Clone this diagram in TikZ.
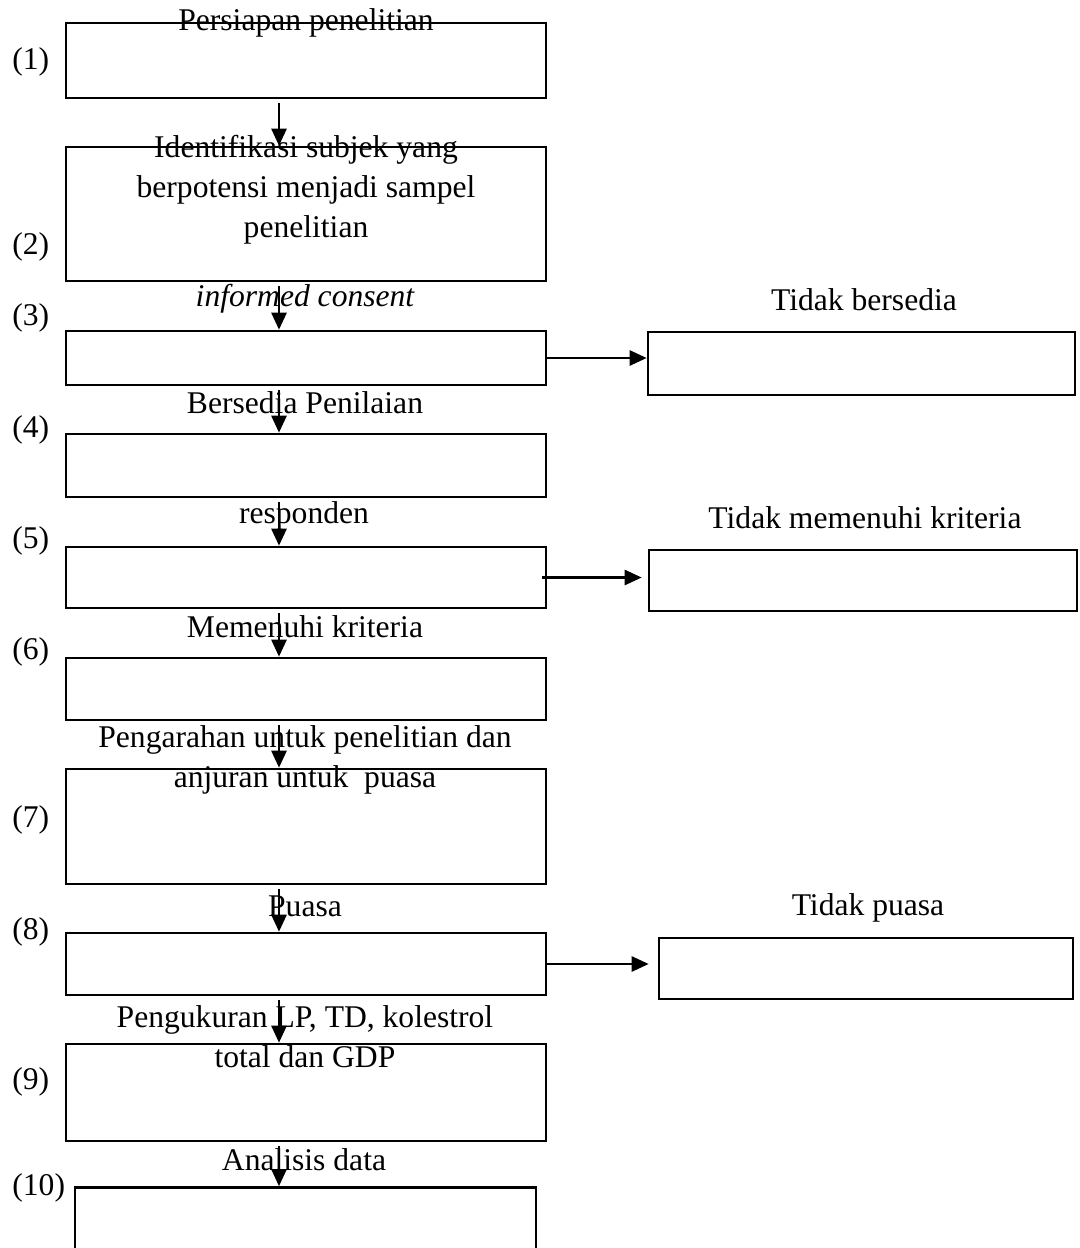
\documentclass[tikz,border=0pt]{standalone}
\usepackage{fontspec}
\setmainfont{Liberation Serif}
\usetikzlibrary{arrows.meta}

\tikzset{
    box/.style={draw, line width=1.3pt, inner sep=0pt},
    txt/.style={inner sep=0pt, align=center},
    arr/.style={line width=1.3pt, -{Triangle[length=8.5pt,width=7.5pt]}}
}

\begin{document}
\begin{tikzpicture}[x={(0.5pt,0pt)}, y={(0pt,-0.5pt)}, font=\fontsize{15.8}{20}\selectfont]
    \useasboundingbox (0,0) rectangle (1080,1248);
    \clip (0,0) rectangle (1080,1248);

    % Main column of boxes
    \node[box, minimum width=240pt, minimum height=37.5pt] (b1) at (306,60.5) {};
    \node[box, minimum width=240pt, minimum height=67pt] (b2) at (306,214) {};
    \node[box, minimum width=240pt, minimum height=27pt] (b3) at (306,358) {};
    \node[box, minimum width=240pt, minimum height=31.5pt] (b4) at (306,465.5) {};
    \node[box, minimum width=240pt, minimum height=30.5pt] (b5) at (306,577.5) {};
    \node[box, minimum width=240pt, minimum height=31pt] (b6) at (306,689) {};
    \node[box, minimum width=240pt, minimum height=57.5pt] (b7) at (306,826.5) {};
    \node[box, minimum width=240pt, minimum height=31pt] (b8) at (306,964) {};
    \node[box, minimum width=240pt, minimum height=48.5pt] (b9) at (306,1092.5) {};
    \node[box, minimum width=230.5pt, minimum height=41pt] (b10) at (305.5,1228.5) {};

    % Side boxes for the drop-outs
    \node[box, minimum width=213.5pt, minimum height=31.5pt] (r3) at (861.5,363.5) {};
    \node[box, minimum width=214pt, minimum height=30.5pt] (r5) at (863,580.5) {};
    \node[box, minimum width=207pt, minimum height=30.5pt] (r8) at (866,968.5) {};

    % Step numbers
    \foreach \i/\y in {1/62,2/247,3/318,4/430,5/541,6/652,7/820,8/932,9/1082,10/1188}
        \node[inner sep=0pt, anchor=west] (n\i) at (12,\y) {(\i)};

    % Texts of the steps
    \node[txt] (t1) at (306,23) {Persiapan penelitian};
    \node[txt] (t2) at (306,190) {Identifikasi subjek yang\\berpotensi menjadi sampel\\penelitian};
    \node[txt] (t3) at (305,299) {\itshape informed consent};
    \node[txt] (t4) at (305,403) {Bersedia Penilaian};
    \node[txt] (t5) at (304,516) {responden};
    \node[txt] (t6) at (305,627) {Memenuhi kriteria};
    \node[txt] (t7) at (305,760) {Pengarahan untuk penelitian dan\\anjuran untuk~ puasa};
    \node[txt] (t8) at (305,906) {Puasa};
    \node[txt] (t9) at (305,1037) {Pengukuran LP, TD, kolestrol\\total dan GDP};
    \node[txt] (t10) at (304,1160) {Analisis data};
    \node[txt] (s3) at (864,300) {Tidak bersedia};
    \node[txt] (s5) at (865,518) {Tidak memenuhi kriteria};
    \node[txt] (s8) at (868,908) {Tidak puasa};

    % Arrows down the column
    \coordinate (ax) at (279,0);
    \foreach \a/\b in {b1/b2,b2/b3,b3/b4,b4/b5,b5/b6,b6/b7,b7/b8,b8/b9,b9/b10}
        \draw[arr, shorten <=2pt] (\a.south -| ax) -- (\b.north -| ax);

    % Arrows to the side boxes
    \draw[arr] (b3.east) -- (b3.east -| r3.west);
    \draw[arr, shorten <=-2.5pt, shorten >=3pt] (b5.east) -- (b5.east -| r5.west);
    \draw[arr, shorten >=4.5pt] (b8.east) -- (b8.east -| r8.west);
\end{tikzpicture}
\end{document}
